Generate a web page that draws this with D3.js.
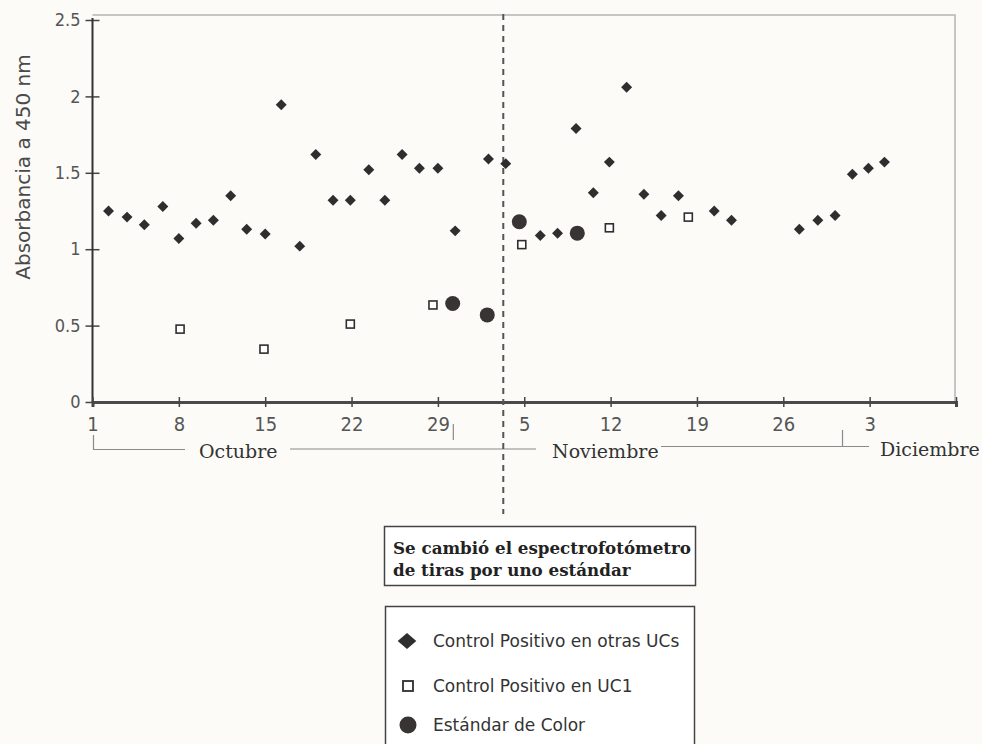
<!DOCTYPE html>
<html>
<head>
<meta charset="utf-8">
<script src="https://cdn.jsdelivr.net/npm/d3@7"></script>
<style>
  body { margin: 0; background: #fcfbf8; }
  svg { display: block; }
  .narrow { font-family: "Liberation Sans Narrow", "DejaVu Sans Condensed", "Roboto Condensed", "Liberation Sans", sans-serif; }
</style>
</head>
<body>
<div id="chart"></div>
<script>
// x values are days since 1 October
const diamondDays = [1.3, 2.8, 4.2, 5.7, 7.0, 8.4, 9.8, 11.2, 12.5, 14.0,
    15.3, 16.8, 18.1, 19.5, 20.9, 22.4, 23.7, 25.1, 26.5, 28.0,
    29.4, 32.1, 33.5, 36.3, 37.7, 39.2, 40.6, 41.9, 43.3, 44.7,
    46.1, 47.5, 50.4, 51.8, 57.3, 58.8, 60.2, 61.6, 62.9, 64.2];
const diamondVals = [1.25, 1.21, 1.16, 1.28, 1.07, 1.17, 1.19, 1.35, 1.13, 1.10,
    1.945, 1.02, 1.62, 1.32, 1.32, 1.52, 1.32, 1.62, 1.53, 1.53,
    1.12, 1.59, 1.56, 1.09, 1.105, 1.79, 1.37, 1.57, 2.06, 1.36,
    1.22, 1.35, 1.25, 1.19, 1.13, 1.19, 1.22, 1.49, 1.53, 1.57];

const squareDays = [7.1, 13.9, 20.9, 27.6, 34.8, 41.9, 48.3];
const squareVals = [0.477, 0.346, 0.51, 0.635, 1.03, 1.14, 1.21];

const circleDays = [29.2, 32.0, 34.6, 39.3];
const circleVals = [0.645, 0.57, 1.18, 1.105];

const tickDays = [0, 7, 14, 21, 28, 35, 42, 49, 56, 63, 70];
const tickLabels = ["1", "8", "15", "22", "29", "5", "12", "19", "26", "3", ""];
const yTicks = [0, 0.5, 1, 1.5, 2, 2.5];

const months = ["Octubre", "Noviembre", "Diciembre"];
const changeDay = 33.3;
const noteLines = ["Se cambió el espectrofotómetro", "de tiras por uno estándar"];
const legendLabels = ["Control Positivo en otras UCs", "Control Positivo en UC1", "Estándar de Color"];

const width = 982, height = 744;
const ink = "#2e2e2e";

const svg = d3.select("#chart").append("svg")
    .attr("width", width)
    .attr("height", height);

const x = d3.scaleLinear().domain([0, 70]).range([92.5, 956]);
const y = d3.scaleLinear().domain([0, 2.5]).range([402, 20]);

// light frame top / right
svg.append("path")
    .attr("d", `M${x(0)},${y(2.5) - 5}H${x(70) - 1}V${y(0)}`)
    .attr("fill", "none")
    .attr("stroke", "#b5b5b2")
    .attr("stroke-width", 1.5);

// y axis
const yAxis = svg.append("g")
    .attr("transform", `translate(${x(0)},0)`)
    .call(d3.axisLeft(y).tickValues(yTicks).tickSize(7).tickFormat(d3.format("")));
yAxis.select(".domain").remove();
yAxis.append("line")
    .attr("y1", y(0)).attr("y2", y(2.5) - 2)
    .attr("stroke", "#333").attr("stroke-width", 2);
yAxis.selectAll(".tick line")
    .attr("x1", 7).attr("x2", -7)
    .attr("stroke", "#444").attr("stroke-width", 1.5);
yAxis.selectAll(".tick text")
    .attr("class", "narrow")
    .attr("x", -12)
    .attr("fill", "#555")
    .style("font-size", "18px");

// x axis
const xAxis = svg.append("g")
    .attr("transform", `translate(0,${y(0)})`)
    .call(d3.axisBottom(x).tickValues(tickDays).tickSize(5)
        .tickFormat((d, i) => tickLabels[i]));
xAxis.select(".domain")
    .attr("stroke", "#4a4a4a")
    .attr("stroke-width", 3);
xAxis.selectAll(".tick line")
    .attr("y1", -5).attr("y2", 5)
    .attr("stroke", "#444").attr("stroke-width", 1.5);
xAxis.selectAll(".tick text")
    .attr("class", "narrow")
    .attr("y", 15)
    .attr("dy", "0.71em")
    .attr("fill", "#555")
    .style("font-size", "20px");

// month brackets under the axis
const bracket = svg.append("g")
    .attr("stroke", "#8a8a8a")
    .attr("stroke-width", 1.2)
    .attr("fill", "none");
bracket.append("path").attr("d", `M${x(0) + 1},435V449.5H185`);
bracket.append("path").attr("d", `M290,449H536`);
bracket.append("path").attr("d", `M${x(29.25)},424V440`);
bracket.append("path").attr("d", `M661,446.5H869`);
bracket.append("path").attr("d", `M${x(60.8)},430V446`);

svg.append("g")
    .selectAll("text")
    .data(months)
    .join("text")
    .attr("x", (d, i) => [199, 552, 880][i])
    .attr("y", (d, i) => [458, 458, 456][i])
    .attr("font-family", "'DejaVu Serif', 'Liberation Serif', serif")
    .attr("font-size", 19)
    .attr("fill", "#333")
    .text(d => d);

// vertical dashed line: change of instrument
svg.append("line")
    .attr("x1", x(changeDay)).attr("x2", x(changeDay))
    .attr("y1", 14).attr("y2", 514)
    .attr("stroke", "#555")
    .attr("stroke-width", 2)
    .attr("stroke-dasharray", "6,5");

// points
const diamond = d3.symbol().type(d3.symbolSquare).size(60);

svg.append("g")
    .selectAll("path")
    .data(diamondDays.map((d, i) => [d, diamondVals[i]]))
    .join("path")
    .attr("d", diamond)
    .attr("transform", d => `translate(${x(d[0])},${y(d[1])}) rotate(45)`)
    .attr("fill", ink);

svg.append("g")
    .selectAll("rect")
    .data(squareDays.map((d, i) => [d, squareVals[i]]))
    .join("rect")
    .attr("x", d => x(d[0]) - 4)
    .attr("y", d => y(d[1]) - 4)
    .attr("width", 8)
    .attr("height", 8)
    .attr("fill", "#fff")
    .attr("stroke", ink)
    .attr("stroke-width", 1.6);

svg.append("g")
    .selectAll("circle")
    .data(circleDays.map((d, i) => [d, circleVals[i]]))
    .join("circle")
    .attr("cx", d => x(d[0]))
    .attr("cy", d => y(d[1]))
    .attr("r", 7.5)
    .attr("fill", "#373433");

// y axis title
svg.append("text")
    .attr("transform", "translate(30,167) rotate(-90)")
    .attr("text-anchor", "middle")
    .attr("font-family", "'DejaVu Sans', Verdana, sans-serif")
    .attr("font-size", 20)
    .attr("fill", "#4a4a4a")
    .text("Absorbancia a 450 nm");

// note box
svg.append("rect")
    .attr("x", 384.5).attr("y", 526.5)
    .attr("width", 311).attr("height", 59)
    .attr("fill", "#fff")
    .attr("stroke", "#444")
    .attr("stroke-width", 1.5);
svg.append("g")
    .selectAll("text")
    .data(noteLines)
    .join("text")
    .attr("x", 393)
    .attr("y", (d, i) => 554 + i * 22)
    .attr("font-family", "'DejaVu Serif', 'Liberation Serif', serif")
    .attr("font-weight", "bold")
    .attr("font-size", 16.7)
    .attr("fill", "#222")
    .text(d => d);

// legend
svg.append("rect")
    .attr("x", 385.5).attr("y", 606.5)
    .attr("width", 309).attr("height", 160)
    .attr("fill", "#fff")
    .attr("stroke", "#444")
    .attr("stroke-width", 1.5);

const legend = svg.append("g");
const rowY = [641, 686, 725];

legend.append("path")
    .attr("d", diamond)
    .attr("transform", `translate(407,${rowY[0]}) scale(1.7,1.45) rotate(45)`)
    .attr("fill", ink);
legend.append("rect")
    .attr("x", 403).attr("y", rowY[1] - 5)
    .attr("width", 10).attr("height", 10)
    .attr("fill", "#fff")
    .attr("stroke", ink)
    .attr("stroke-width", 1.8);
legend.append("circle")
    .attr("cx", 408).attr("cy", rowY[2])
    .attr("r", 8.5)
    .attr("fill", "#373433");

legend.selectAll("text")
    .data(legendLabels)
    .join("text")
    .attr("x", 433)
    .attr("y", (d, i) => rowY[i] + 6)
    .attr("font-family", "'DejaVu Sans', Verdana, sans-serif")
    .attr("font-size", 17)
    .attr("fill", "#333")
    .text(d => d);
</script>
</body>
</html>
